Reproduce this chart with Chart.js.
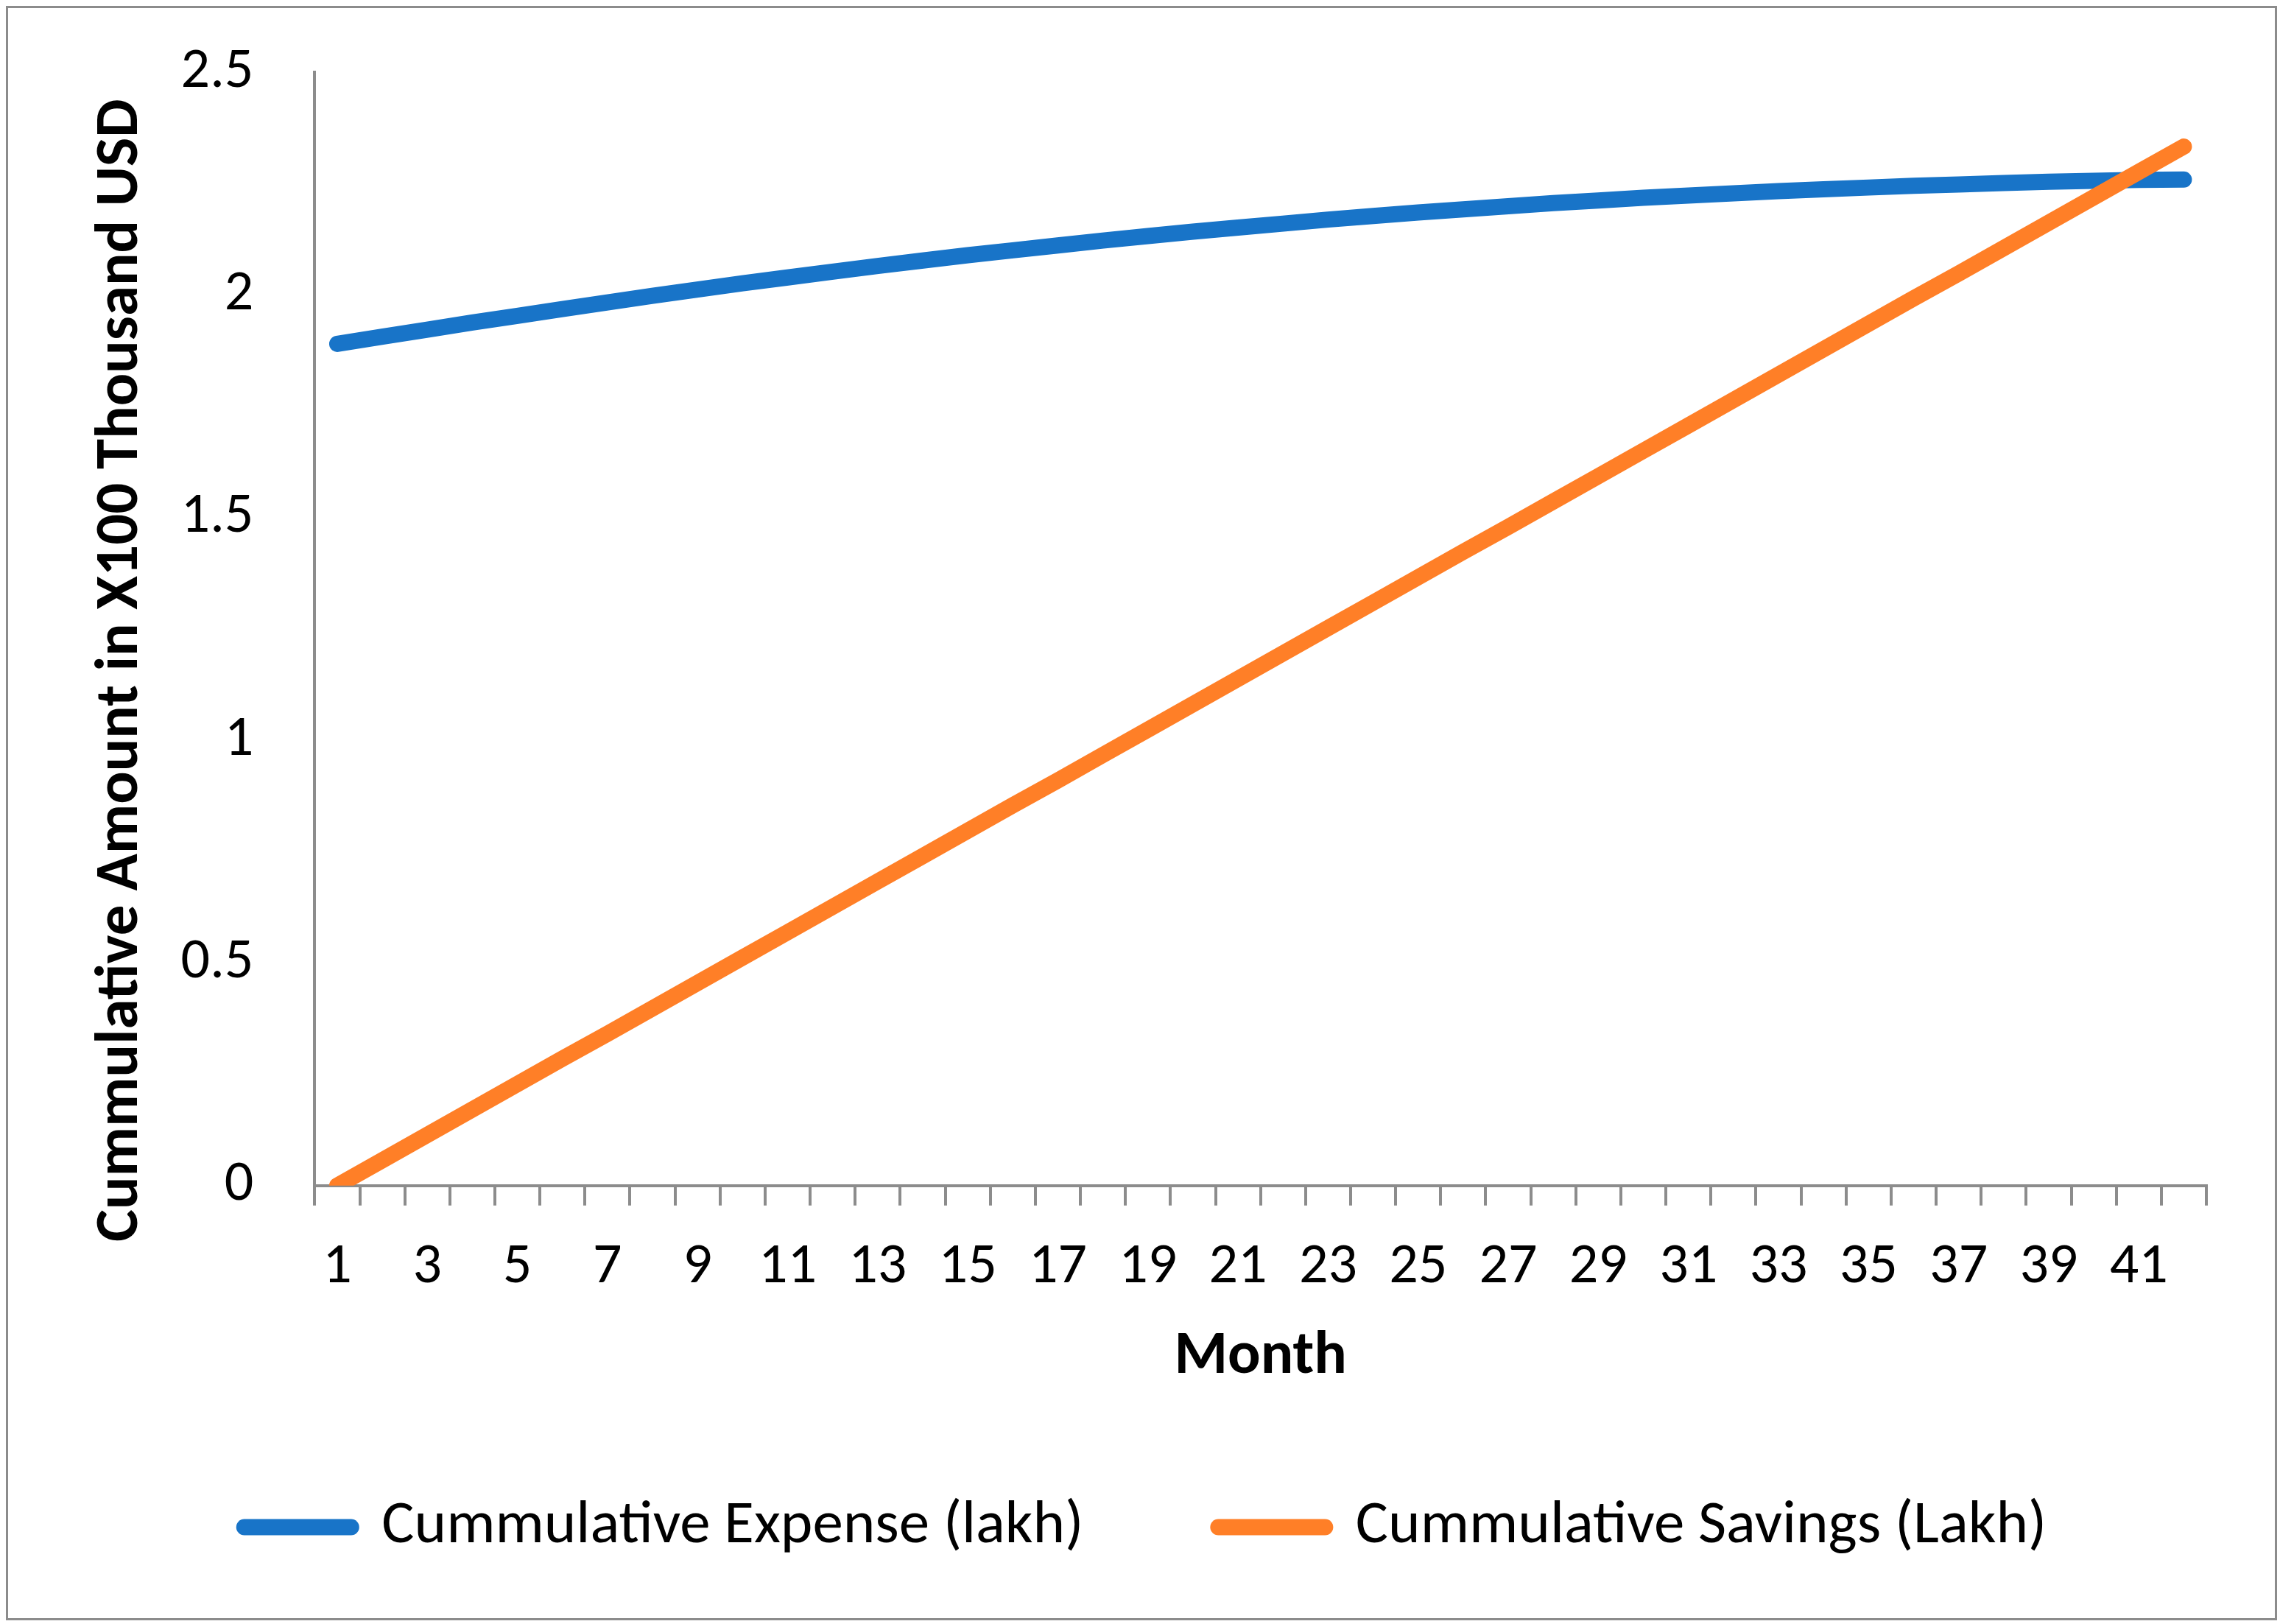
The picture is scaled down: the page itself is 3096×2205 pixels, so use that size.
<!DOCTYPE html>
<html lang="en">
<head>
    <meta charset="UTF-8">
    <title>Cummulative Expense vs Savings</title>
    <style>
        html, body { margin: 0; padding: 0; background: #fff; }
        #wrap { position: relative; width: 3096px; height: 2205px; }
        #frame { position: absolute; left: 8px; top: 8px; width: 3078px; height: 2186px; border: 3px solid #8c8c8c; pointer-events: none; }
    </style>
</head>
<body>
    <div id="wrap">
        <canvas id="myChart"></canvas>
        <div id="frame"></div>
    </div>

    <script src="https://cdn.jsdelivr.net/npm/chart.js"></script>

    <script>
        // months 1..42
        const months = ['1','2','3','4','5','6','7','8','9','10','11','12','13','14','15','16','17','18','19','20','21',
                        '22','23','24','25','26','27','28','29','30','31','32','33','34','35','36','37','38','39','40','41','42'];

        // cumulative expense (lakh)
        const expense = [1.890, 1.906, 1.922, 1.938, 1.953, 1.968, 1.983, 1.998, 2.012, 2.026, 2.039, 2.052, 2.065, 2.077,
                         2.089, 2.100, 2.111, 2.122, 2.132, 2.142, 2.151, 2.160, 2.169, 2.177, 2.185, 2.192, 2.199, 2.206,
                         2.212, 2.218, 2.223, 2.228, 2.233, 2.237, 2.241, 2.245, 2.248, 2.251, 2.254, 2.256, 2.258, 2.259];

        // cumulative savings (lakh)
        const savings = [0, 0.057, 0.114, 0.171, 0.228, 0.285, 0.341, 0.398, 0.455, 0.512, 0.569, 0.626, 0.683, 0.740,
                         0.797, 0.854, 0.910, 0.967, 1.024, 1.081, 1.138, 1.195, 1.252, 1.309, 1.366, 1.423, 1.479, 1.536,
                         1.593, 1.650, 1.707, 1.764, 1.821, 1.878, 1.935, 1.992, 2.048, 2.105, 2.162, 2.219, 2.276, 2.333];

        const seriesNames = ['Cummulative Expense (lakh)', 'Cummulative Savings (Lakh)'];
        const yTitle = 'Cummulative Amount in X100 Thousand USD';
        const xTitle = 'Month';

        const FONT = 'Carlito, Calibri, Lato, sans-serif';
        const FS = 78;      // tick labels
        const FS_BIG = 83;  // titles + legend
        const GREY = '#8c8c8c';

        const ctx = document.getElementById('myChart');

        let chart = new Chart(ctx, {
            type: 'line',
            data: {
                labels: months,
                datasets: [{
                    label: seriesNames[0],
                    data: expense,
                    borderColor: '#1874c8',
                    backgroundColor: '#1874c8',
                    borderWidth: 22,
                    borderCapStyle: 'round',
                    borderJoinStyle: 'round',
                    pointRadius: 0,
                    tension: 0,
                    order: 1
                }, {
                    label: seriesNames[1],
                    data: savings,
                    borderColor: '#ff7f27',
                    backgroundColor: '#ff7f27',
                    borderWidth: 22,
                    borderCapStyle: 'round',
                    borderJoinStyle: 'round',
                    pointRadius: 0,
                    tension: 0,
                    order: 0
                }]
            },
            options: {
                responsive: true,
                maintainAspectRatio: false,
                animation: false,
                devicePixelRatio: 1,
                layout: {
                    autoPadding: false,
                    padding: { left: 115, top: 98, right: 100, bottom: 80 }
                },
                plugins: {
                    tooltip: { enabled: false },
                    legend: {
                        position: 'bottom',
                        labels: {
                            usePointStyle: true,
                            pointStyle: 'line',
                            pointStyleWidth: 145,
                            padding: 183,
                            color: '#000',
                            font: { family: FONT, size: FS_BIG },
                            generateLabels: (c) => Chart.defaults.plugins.legend.labels.generateLabels(c)
                                .map(it => Object.assign(it, { lineCap: 'round', lineWidth: 22 })),
                            sort: (a, b) => a.datasetIndex - b.datasetIndex
                        }
                    }
                },
                scales: {
                    x: {
                        offset: true,
                        grid: {
                            offset: true,
                            drawOnChartArea: false,
                            drawTicks: true,
                            tickLength: 27,
                            color: GREY,
                            lineWidth: 4
                        },
                        border: { display: true, color: GREY, width: 4 },
                        ticks: {
                            autoSkip: false,
                            maxRotation: 0,
                            padding: 38,
                            color: '#000',
                            font: { family: FONT, size: FS },
                            callback: function (val, i) {
                                return i % 2 === 0 ? this.getLabelForValue(val) : '';
                            }
                        },
                        title: {
                            display: true,
                            text: xTitle,
                            color: '#000',
                            font: { family: FONT, size: FS_BIG, weight: 'bold' },
                            padding: { top: -13, bottom: -44 }
                        }
                    },
                    y: {
                        min: 0,
                        max: 2.5,
                        // invisible tick marks give the gap between labels and axis line
                        grid: { display: true, drawOnChartArea: false, drawTicks: true, tickLength: 83, tickColor: 'rgba(0,0,0,0)' },
                        border: { display: true, color: GREY, width: 4 },
                        ticks: {
                            stepSize: 0.5,
                            padding: 0,
                            color: '#000',
                            font: { family: FONT, size: FS },
                            callback: (v) => String(v)
                        },
                        title: {
                            display: true,
                            text: yTitle + '      ',
                            color: '#000',
                            font: { family: FONT, size: FS_BIG, weight: 'bold' },
                            padding: { top: 0, bottom: 31 }
                        }
                    }
                }
            }
        });
    </script>
</body>
</html>
